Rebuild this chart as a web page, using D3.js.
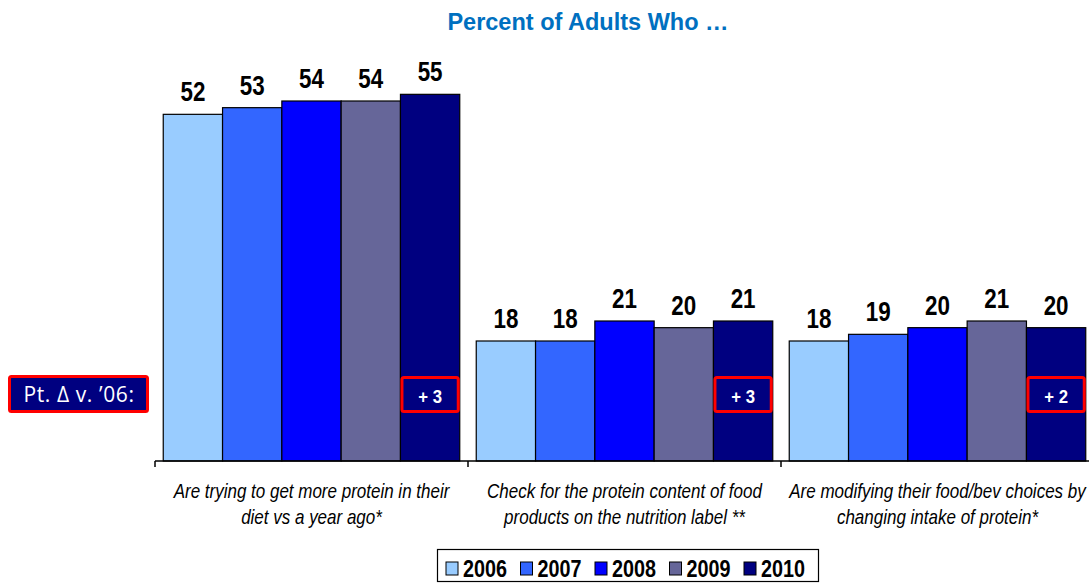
<!DOCTYPE html>
<html>
<head>
<meta charset="utf-8">
<script src="https://cdn.jsdelivr.net/npm/d3@7"></script>
<style>
  body { margin: 0; background: #fff; }
  svg { display: block; }
</style>
</head>
<body>
<div id="chart"></div>
<script>
// chart data
const categories = [
  ["Are trying to get more protein in their", "diet vs a year ago*"],
  ["Check for the protein content of food", "products on the nutrition label **"],
  ["Are modifying their food/bev choices by", "changing intake of protein*"]
];
const years = ["2006", "2007", "2008", "2009", "2010"];
const values = [
  [52, 53, 54, 54, 55],
  [18, 18, 21, 20, 21],
  [18, 19, 20, 21, 20]
];
const deltas = ["+ 3", "+ 3", "+ 2"];
const colors = ["#99ccff", "#3366ff", "#0000ff", "#666699", "#000080"];

let width = 1089, height = 583;
let plot = {left: 155, right: 1094, bottom: 461};
// no narrow font installed, so squeeze Arial-like text horizontally
const narrow = "Liberation Sans, Arial, sans-serif";

let svg = d3.select("#chart")
            .append("svg")
            .attr("width", width)
            .attr("height", height);

let x0 = d3.scaleBand()
           .domain(d3.range(categories.length))
           .range([plot.left, plot.right]);

let x1 = d3.scaleBand()
           .domain(years)
           .range([0, x0.bandwidth()])
           .paddingOuter(0.139)
           .paddingInner(0);

let y = d3.scaleLinear()
          .domain([0, 60])
          .range([plot.bottom, plot.bottom - 400]);

// title
svg.append("text")
   .attr("transform", "translate(588,30) scale(0.98,1)")
   .attr("text-anchor", "middle")
   .attr("font-family", narrow)
   .attr("font-weight", "bold")
   .attr("font-size", "24px")
   .attr("fill", "#0070c0")
   .text("Percent of Adults Who \u2026");

// bars
let groups = svg.append("g")
   .selectAll("g")
   .data(values)
   .enter()
   .append("g")
   .attr("transform", function(d, i) { return "translate(" + x0(i) + ",0)"; });

groups.selectAll("rect")
   .data(function(d) { return d.map(function(v, j) { return {year: years[j], value: v, c: colors[j]}; }); })
   .enter()
   .append("rect")
   .attr("x", function(d) { return x1(d.year); })
   .attr("y", function(d) { return y(d.value); })
   .attr("width", x1.bandwidth())
   .attr("height", function(d) { return y(0) - y(d.value); })
   .attr("fill", function(d) { return d.c; })
   .attr("stroke", "#000")
   .attr("stroke-width", 1.2);

groups.selectAll("text.val")
   .data(function(d) { return d.map(function(v, j) { return {year: years[j], value: v}; }); })
   .enter()
   .append("text")
   .attr("class", "val")
   .attr("transform", function(d) {
       return "translate(" + (x1(d.year) + x1.bandwidth() / 2) + "," + (y(d.value) - 13) + ") scale(0.8,1)";
   })
   .attr("text-anchor", "middle")
   .attr("font-family", narrow)
   .attr("font-weight", "bold")
   .attr("font-size", "28px")
   .attr("fill", "#000")
   .text(function(d) { return d.value; });

// delta boxes on the 2010 bar
groups.append("rect")
   .attr("x", x1("2010") + 1.5)
   .attr("y", 377.5)
   .attr("width", x1.bandwidth() - 3)
   .attr("height", 34)
   .attr("fill", "#000080")
   .attr("stroke", "#ff0000")
   .attr("stroke-width", 3)
   .attr("rx", 2);

groups.append("text")
   .attr("transform", "translate(" + (x1("2010") + x1.bandwidth() / 2) + ",403) scale(0.88,1)")
   .attr("text-anchor", "middle")
   .attr("font-family", narrow)
   .attr("font-weight", "bold")
   .attr("font-size", "19px")
   .attr("fill", "#fff")
   .text(function(d, i) { return deltas[i]; });

// left label box
svg.append("rect")
   .attr("x", 9.5)
   .attr("y", 376.5)
   .attr("width", 138)
   .attr("height", 35)
   .attr("fill", "#000080")
   .attr("stroke", "#ff0000")
   .attr("stroke-width", 3)
   .attr("rx", 2);

svg.append("text")
   .attr("x", 79)
   .attr("y", 402)
   .attr("text-anchor", "middle")
   .attr("font-family", "Open Sans, sans-serif")
   .attr("font-size", "21px")
   .attr("letter-spacing", "0.6px")
   .attr("fill", "#fff")
   .text("Pt. \u0394 v. \u201906:");

// x axis
let xAxis = svg.append("g")
   .attr("transform", "translate(0," + plot.bottom + ")");

xAxis.append("line")
   .attr("x1", plot.left)
   .attr("x2", plot.right)
   .attr("stroke", "#000")
   .attr("stroke-width", 1.5);

xAxis.selectAll("line.tick")
   .data(d3.range(categories.length + 1))
   .enter()
   .append("line")
   .attr("class", "tick")
   .attr("x1", function(d) { return plot.left + d * x0.bandwidth(); })
   .attr("x2", function(d) { return plot.left + d * x0.bandwidth(); })
   .attr("y1", 0)
   .attr("y2", 6)
   .attr("stroke", "#000")
   .attr("stroke-width", 1.5);

// category labels
svg.append("g")
   .selectAll("g")
   .data(categories)
   .enter()
   .append("g")
   .each(function(d, i) {
       let g = d3.select(this);
       d.forEach(function(t, k) {
           g.append("text")
            .attr("transform", "translate(" + (x0(i) + x0.bandwidth() / 2) + "," + (498 + k * 26) + ") scale(0.85,1)")
            .attr("text-anchor", "middle")
            .attr("font-family", narrow)
            .attr("font-style", "italic")
            .attr("font-size", "20px")
            .attr("fill", "#000")
            .text(t);
       });
   });

// legend
let legend = svg.append("g");
legend.append("rect")
   .attr("x", 437.5)
   .attr("y", 549.5)
   .attr("width", 381)
   .attr("height", 32)
   .attr("fill", "#fff")
   .attr("stroke", "#000")
   .attr("stroke-width", 1.2);

let legItems = legend.selectAll("g.item")
   .data(years)
   .enter()
   .append("g")
   .attr("class", "item")
   .attr("transform", function(d, i) { return "translate(" + (446 + i * 74.5) + ",562)"; });

legItems.append("rect")
   .attr("width", 12)
   .attr("height", 13)
   .attr("fill", function(d, i) { return colors[i]; })
   .attr("stroke", "#000")
   .attr("stroke-width", 1);

legItems.append("text")
   .attr("transform", "translate(17,15) scale(0.86,1)")
   .attr("font-family", narrow)
   .attr("font-weight", "bold")
   .attr("font-size", "23px")
   .attr("fill", "#000")
   .text(function(d) { return d; });
</script>
</body>
</html>
